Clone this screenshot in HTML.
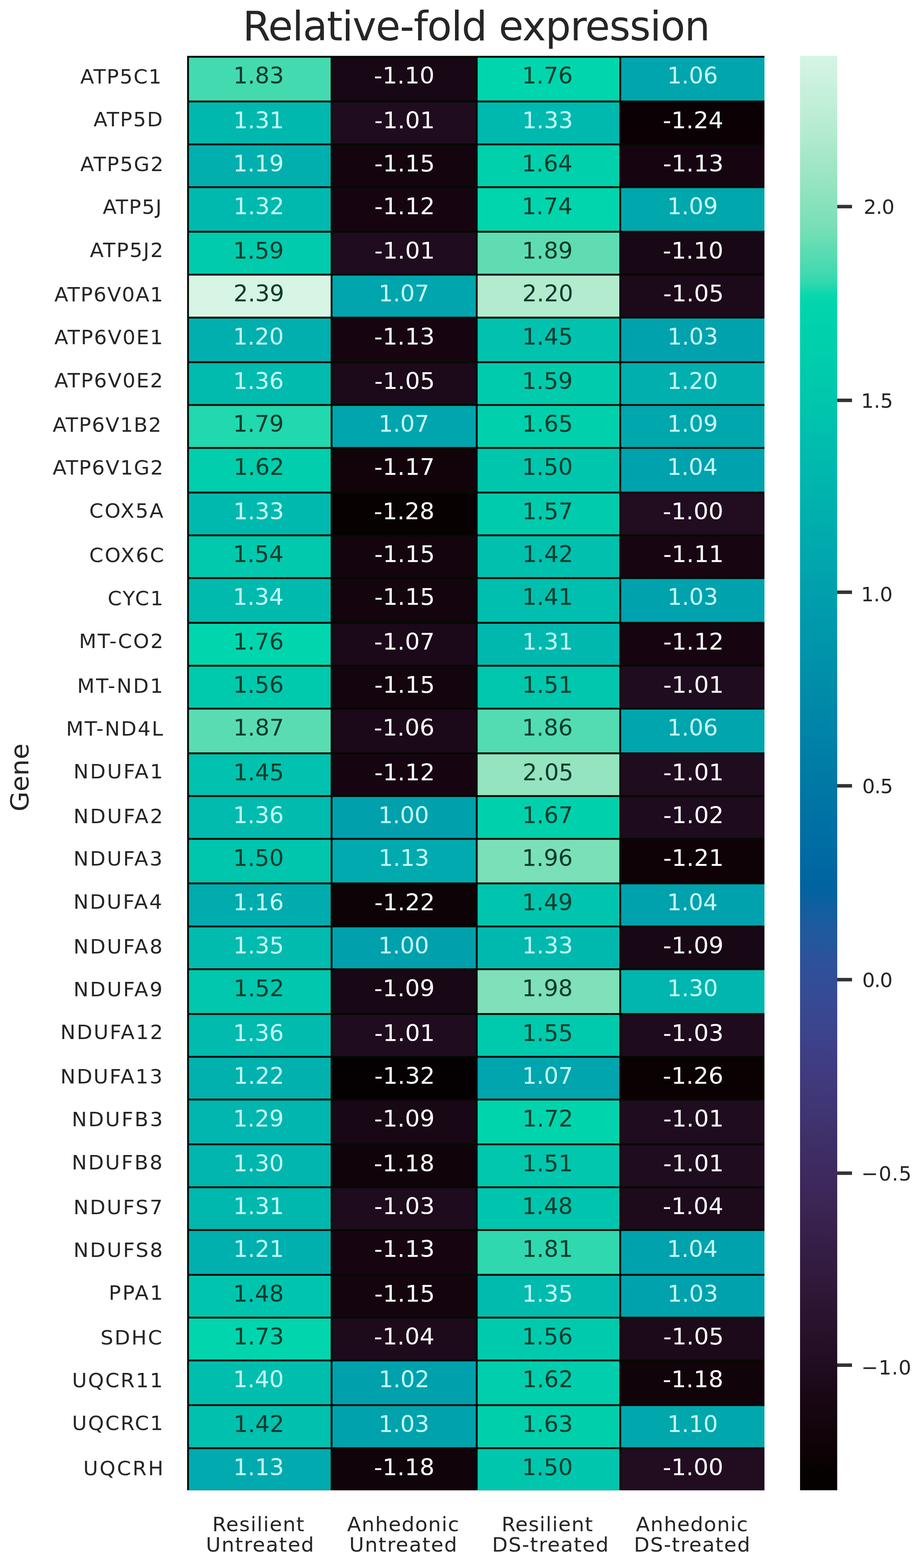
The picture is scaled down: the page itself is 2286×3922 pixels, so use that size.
<!DOCTYPE html>
<html><head><meta charset="utf-8"><title>Relative-fold expression</title>
<style>html,body{margin:0;padding:0;background:#fff;}body{width:2286px;height:3922px;overflow:hidden;}svg{display:block;}</style>
</head><body>
<svg width="2286" height="3922" viewBox="0 0 2286 3922">
<defs><linearGradient id="cb" x1="0" y1="0" x2="0" y2="1"><stop offset="0.0000" stop-color="#d6f5e5"/><stop offset="0.0083" stop-color="#d1f3e2"/><stop offset="0.0167" stop-color="#ccf2de"/><stop offset="0.0250" stop-color="#c6f0db"/><stop offset="0.0333" stop-color="#c1efd7"/><stop offset="0.0417" stop-color="#bcedd4"/><stop offset="0.0500" stop-color="#b6ecd1"/><stop offset="0.0583" stop-color="#b0eacd"/><stop offset="0.0667" stop-color="#a7e8c8"/><stop offset="0.0750" stop-color="#a1e6c5"/><stop offset="0.0833" stop-color="#9ae5c2"/><stop offset="0.0917" stop-color="#93e4bf"/><stop offset="0.1000" stop-color="#8be2bd"/><stop offset="0.1083" stop-color="#83e1ba"/><stop offset="0.1167" stop-color="#7ae0b8"/><stop offset="0.1250" stop-color="#70deb6"/><stop offset="0.1333" stop-color="#60dcb3"/><stop offset="0.1417" stop-color="#53dbb2"/><stop offset="0.1500" stop-color="#44dab0"/><stop offset="0.1583" stop-color="#30d8af"/><stop offset="0.1667" stop-color="#09d7ae"/><stop offset="0.1750" stop-color="#00d5ad"/><stop offset="0.1833" stop-color="#00d4ad"/><stop offset="0.1917" stop-color="#00d1ac"/><stop offset="0.2000" stop-color="#00d0ac"/><stop offset="0.2083" stop-color="#00cead"/><stop offset="0.2167" stop-color="#00ccad"/><stop offset="0.2250" stop-color="#00caad"/><stop offset="0.2333" stop-color="#00c8ad"/><stop offset="0.2417" stop-color="#00c6ad"/><stop offset="0.2500" stop-color="#00c4ae"/><stop offset="0.2583" stop-color="#00c0ae"/><stop offset="0.2667" stop-color="#00beae"/><stop offset="0.2750" stop-color="#00bcae"/><stop offset="0.2833" stop-color="#00baae"/><stop offset="0.2917" stop-color="#00b8ae"/><stop offset="0.3000" stop-color="#00b5ae"/><stop offset="0.3083" stop-color="#00b3ae"/><stop offset="0.3167" stop-color="#00b0ae"/><stop offset="0.3250" stop-color="#00aeae"/><stop offset="0.3333" stop-color="#00abae"/><stop offset="0.3417" stop-color="#00a9ae"/><stop offset="0.3500" stop-color="#00a7ad"/><stop offset="0.3583" stop-color="#00a5ad"/><stop offset="0.3667" stop-color="#00a1ad"/><stop offset="0.3750" stop-color="#009fac"/><stop offset="0.3833" stop-color="#009dac"/><stop offset="0.3917" stop-color="#009aac"/><stop offset="0.4000" stop-color="#0098ab"/><stop offset="0.4083" stop-color="#0096ab"/><stop offset="0.4167" stop-color="#0094ab"/><stop offset="0.4250" stop-color="#0091aa"/><stop offset="0.4333" stop-color="#008ea9"/><stop offset="0.4417" stop-color="#008ca9"/><stop offset="0.4500" stop-color="#008aa9"/><stop offset="0.4583" stop-color="#0087a8"/><stop offset="0.4667" stop-color="#0085a8"/><stop offset="0.4750" stop-color="#0083a7"/><stop offset="0.4833" stop-color="#0080a7"/><stop offset="0.4917" stop-color="#007da6"/><stop offset="0.5000" stop-color="#007ba5"/><stop offset="0.5083" stop-color="#0078a5"/><stop offset="0.5167" stop-color="#0076a5"/><stop offset="0.5250" stop-color="#0074a4"/><stop offset="0.5333" stop-color="#0071a4"/><stop offset="0.5417" stop-color="#006fa3"/><stop offset="0.5500" stop-color="#006da3"/><stop offset="0.5583" stop-color="#0069a2"/><stop offset="0.5667" stop-color="#0067a2"/><stop offset="0.5750" stop-color="#0064a1"/><stop offset="0.5833" stop-color="#0462a0"/><stop offset="0.5917" stop-color="#0f5fa0"/><stop offset="0.6000" stop-color="#175d9f"/><stop offset="0.6083" stop-color="#1e5a9e"/><stop offset="0.6167" stop-color="#23589d"/><stop offset="0.6250" stop-color="#29549b"/><stop offset="0.6333" stop-color="#2d519a"/><stop offset="0.6417" stop-color="#314f98"/><stop offset="0.6500" stop-color="#344c96"/><stop offset="0.6583" stop-color="#374a94"/><stop offset="0.6667" stop-color="#394791"/><stop offset="0.6750" stop-color="#3b458f"/><stop offset="0.6833" stop-color="#3d438c"/><stop offset="0.6917" stop-color="#3e3f87"/><stop offset="0.7000" stop-color="#3f3d83"/><stop offset="0.7083" stop-color="#403b80"/><stop offset="0.7167" stop-color="#40397c"/><stop offset="0.7250" stop-color="#403778"/><stop offset="0.7333" stop-color="#403575"/><stop offset="0.7417" stop-color="#403371"/><stop offset="0.7500" stop-color="#3f316b"/><stop offset="0.7583" stop-color="#3f2f67"/><stop offset="0.7667" stop-color="#3e2d64"/><stop offset="0.7750" stop-color="#3d2b60"/><stop offset="0.7833" stop-color="#3d295c"/><stop offset="0.7917" stop-color="#3c2759"/><stop offset="0.8000" stop-color="#3b2655"/><stop offset="0.8083" stop-color="#392451"/><stop offset="0.8167" stop-color="#38214c"/><stop offset="0.8250" stop-color="#361f48"/><stop offset="0.8333" stop-color="#351e44"/><stop offset="0.8417" stop-color="#331c41"/><stop offset="0.8500" stop-color="#311a3d"/><stop offset="0.8583" stop-color="#301839"/><stop offset="0.8667" stop-color="#2d1634"/><stop offset="0.8750" stop-color="#2b1430"/><stop offset="0.8833" stop-color="#29122d"/><stop offset="0.8917" stop-color="#271129"/><stop offset="0.9000" stop-color="#240f26"/><stop offset="0.9083" stop-color="#220d22"/><stop offset="0.9167" stop-color="#200c1f"/><stop offset="0.9250" stop-color="#1c0919"/><stop offset="0.9333" stop-color="#190716"/><stop offset="0.9417" stop-color="#170612"/><stop offset="0.9500" stop-color="#14050f"/><stop offset="0.9583" stop-color="#12030b"/><stop offset="0.9667" stop-color="#0f0208"/><stop offset="0.9750" stop-color="#0d0205"/><stop offset="0.9833" stop-color="#080102"/><stop offset="0.9917" stop-color="#060001"/><stop offset="1.0000" stop-color="#050001"/></linearGradient></defs>
<rect width="2286" height="3922" fill="#fff"/>
<rect x="468" y="139.7" width="1444" height="3587.8" fill="#020a02"/>
<rect x="472.60" y="144.30" width="354.40" height="107.20" fill="#44dab0"/>
<rect x="831.60" y="144.30" width="358.40" height="107.20" fill="#180714"/>
<rect x="1194.60" y="144.30" width="354.40" height="107.20" fill="#00d6ad"/>
<rect x="1553.60" y="144.30" width="358.40" height="107.20" fill="#00a5ad"/>
<rect x="472.60" y="256.10" width="354.40" height="102.80" fill="#00b8ae"/>
<rect x="831.60" y="256.10" width="358.40" height="102.80" fill="#200c1f"/>
<rect x="1194.60" y="256.10" width="354.40" height="102.80" fill="#00b9ae"/>
<rect x="1553.60" y="256.10" width="358.40" height="102.80" fill="#0b0104"/>
<rect x="472.60" y="363.50" width="354.40" height="102.40" fill="#00afae"/>
<rect x="831.60" y="363.50" width="358.40" height="102.40" fill="#13040d"/>
<rect x="1194.60" y="363.50" width="354.40" height="102.40" fill="#00d0ac"/>
<rect x="1553.60" y="363.50" width="358.40" height="102.40" fill="#160511"/>
<rect x="472.60" y="470.50" width="354.40" height="106.80" fill="#00b9ae"/>
<rect x="831.60" y="470.50" width="358.40" height="106.80" fill="#160511"/>
<rect x="1194.60" y="470.50" width="354.40" height="106.80" fill="#00d5ad"/>
<rect x="1553.60" y="470.50" width="358.40" height="106.80" fill="#00a7ad"/>
<rect x="472.60" y="581.90" width="354.40" height="102.80" fill="#00ccad"/>
<rect x="831.60" y="581.90" width="358.40" height="102.80" fill="#200c1f"/>
<rect x="1194.60" y="581.90" width="354.40" height="102.80" fill="#60dcb3"/>
<rect x="1553.60" y="581.90" width="358.40" height="102.80" fill="#180714"/>
<rect x="472.60" y="689.30" width="354.40" height="102.80" fill="#d6f5e5"/>
<rect x="831.60" y="689.30" width="358.40" height="102.80" fill="#00a5ad"/>
<rect x="1194.60" y="689.30" width="354.40" height="102.80" fill="#b3ebcf"/>
<rect x="1553.60" y="689.30" width="358.40" height="102.80" fill="#1c0919"/>
<rect x="472.60" y="796.70" width="354.40" height="107.00" fill="#00afae"/>
<rect x="831.60" y="796.70" width="358.40" height="107.00" fill="#160511"/>
<rect x="1194.60" y="796.70" width="354.40" height="107.00" fill="#00c2ae"/>
<rect x="1553.60" y="796.70" width="358.40" height="107.00" fill="#00a2ad"/>
<rect x="472.60" y="908.30" width="354.40" height="102.40" fill="#00bbae"/>
<rect x="831.60" y="908.30" width="358.40" height="102.40" fill="#1c0919"/>
<rect x="1194.60" y="908.30" width="354.40" height="102.40" fill="#00ccad"/>
<rect x="1553.60" y="908.30" width="358.40" height="102.40" fill="#00afae"/>
<rect x="472.60" y="1015.30" width="354.40" height="102.80" fill="#22d8ae"/>
<rect x="831.60" y="1015.30" width="358.40" height="102.80" fill="#00a5ad"/>
<rect x="1194.60" y="1015.30" width="354.40" height="102.80" fill="#00d0ac"/>
<rect x="1553.60" y="1015.30" width="358.40" height="102.80" fill="#00a7ad"/>
<rect x="472.60" y="1122.70" width="354.40" height="107.00" fill="#00cead"/>
<rect x="831.60" y="1122.70" width="358.40" height="107.00" fill="#12030b"/>
<rect x="1194.60" y="1122.70" width="354.40" height="107.00" fill="#00c6ad"/>
<rect x="1553.60" y="1122.70" width="358.40" height="107.00" fill="#00a2ad"/>
<rect x="472.60" y="1234.30" width="354.40" height="102.40" fill="#00b9ae"/>
<rect x="831.60" y="1234.30" width="358.40" height="102.40" fill="#070102"/>
<rect x="1194.60" y="1234.30" width="354.40" height="102.40" fill="#00cbad"/>
<rect x="1553.60" y="1234.30" width="358.40" height="102.40" fill="#210c20"/>
<rect x="472.60" y="1341.30" width="354.40" height="102.40" fill="#00c9ad"/>
<rect x="831.60" y="1341.30" width="358.40" height="102.40" fill="#13040d"/>
<rect x="1194.60" y="1341.30" width="354.40" height="102.40" fill="#00c0ae"/>
<rect x="1553.60" y="1341.30" width="358.40" height="102.40" fill="#170612"/>
<rect x="472.60" y="1448.30" width="354.40" height="107.20" fill="#00baae"/>
<rect x="831.60" y="1448.30" width="358.40" height="107.20" fill="#13040d"/>
<rect x="1194.60" y="1448.30" width="354.40" height="107.20" fill="#00bfae"/>
<rect x="1553.60" y="1448.30" width="358.40" height="107.20" fill="#00a2ad"/>
<rect x="472.60" y="1560.10" width="354.40" height="102.80" fill="#00d6ad"/>
<rect x="831.60" y="1560.10" width="358.40" height="102.80" fill="#1b0818"/>
<rect x="1194.60" y="1560.10" width="354.40" height="102.80" fill="#00b8ae"/>
<rect x="1553.60" y="1560.10" width="358.40" height="102.80" fill="#160511"/>
<rect x="472.60" y="1667.50" width="354.40" height="102.70" fill="#00caad"/>
<rect x="831.60" y="1667.50" width="358.40" height="102.70" fill="#13040d"/>
<rect x="1194.60" y="1667.50" width="354.40" height="102.70" fill="#00c7ad"/>
<rect x="1553.60" y="1667.50" width="358.40" height="102.70" fill="#200c1f"/>
<rect x="472.60" y="1774.80" width="354.40" height="107.20" fill="#5adcb2"/>
<rect x="831.60" y="1774.80" width="358.40" height="107.20" fill="#1b0818"/>
<rect x="1194.60" y="1774.80" width="354.40" height="107.20" fill="#53dbb2"/>
<rect x="1553.60" y="1774.80" width="358.40" height="107.20" fill="#00a5ad"/>
<rect x="472.60" y="1886.60" width="354.40" height="102.30" fill="#00c2ae"/>
<rect x="831.60" y="1886.60" width="358.40" height="102.30" fill="#160511"/>
<rect x="1194.60" y="1886.60" width="354.40" height="102.30" fill="#93e4bf"/>
<rect x="1553.60" y="1886.60" width="358.40" height="102.30" fill="#200c1f"/>
<rect x="472.60" y="1993.50" width="354.40" height="102.40" fill="#00bbae"/>
<rect x="831.60" y="1993.50" width="358.40" height="102.40" fill="#00a0ad"/>
<rect x="1194.60" y="1993.50" width="354.40" height="102.40" fill="#00d1ac"/>
<rect x="1553.60" y="1993.50" width="358.40" height="102.40" fill="#1e0b1d"/>
<rect x="472.60" y="2100.50" width="354.40" height="106.80" fill="#00c6ad"/>
<rect x="831.60" y="2100.50" width="358.40" height="106.80" fill="#00aaae"/>
<rect x="1194.60" y="2100.50" width="354.40" height="106.80" fill="#7ae0b8"/>
<rect x="1553.60" y="2100.50" width="358.40" height="106.80" fill="#0e0207"/>
<rect x="472.60" y="2211.90" width="354.40" height="103.10" fill="#00acae"/>
<rect x="831.60" y="2211.90" width="358.40" height="103.10" fill="#0d0205"/>
<rect x="1194.60" y="2211.90" width="354.40" height="103.10" fill="#00c5ae"/>
<rect x="1553.60" y="2211.90" width="358.40" height="103.10" fill="#00a2ad"/>
<rect x="472.60" y="2319.60" width="354.40" height="102.40" fill="#00bbae"/>
<rect x="831.60" y="2319.60" width="358.40" height="102.40" fill="#00a0ad"/>
<rect x="1194.60" y="2319.60" width="354.40" height="102.40" fill="#00b9ae"/>
<rect x="1553.60" y="2319.60" width="358.40" height="102.40" fill="#180714"/>
<rect x="472.60" y="2426.60" width="354.40" height="107.40" fill="#00c7ad"/>
<rect x="831.60" y="2426.60" width="358.40" height="107.40" fill="#180714"/>
<rect x="1194.60" y="2426.60" width="354.40" height="107.40" fill="#7fe0b9"/>
<rect x="1553.60" y="2426.60" width="358.40" height="107.40" fill="#00b6ae"/>
<rect x="472.60" y="2538.60" width="354.40" height="102.40" fill="#00bbae"/>
<rect x="831.60" y="2538.60" width="358.40" height="102.40" fill="#200c1f"/>
<rect x="1194.60" y="2538.60" width="354.40" height="102.40" fill="#00caad"/>
<rect x="1553.60" y="2538.60" width="358.40" height="102.40" fill="#1e0b1d"/>
<rect x="472.60" y="2645.60" width="354.40" height="102.30" fill="#00b1ae"/>
<rect x="831.60" y="2645.60" width="358.40" height="102.30" fill="#050001"/>
<rect x="1194.60" y="2645.60" width="354.40" height="102.30" fill="#00a5ad"/>
<rect x="1553.60" y="2645.60" width="358.40" height="102.30" fill="#0a0103"/>
<rect x="472.60" y="2752.50" width="354.40" height="107.50" fill="#00b6ae"/>
<rect x="831.60" y="2752.50" width="358.40" height="107.50" fill="#180714"/>
<rect x="1194.60" y="2752.50" width="354.40" height="107.50" fill="#00d4ad"/>
<rect x="1553.60" y="2752.50" width="358.40" height="107.50" fill="#200c1f"/>
<rect x="472.60" y="2864.60" width="354.40" height="102.80" fill="#00b6ae"/>
<rect x="831.60" y="2864.60" width="358.40" height="102.80" fill="#11030a"/>
<rect x="1194.60" y="2864.60" width="354.40" height="102.80" fill="#00c7ad"/>
<rect x="1553.60" y="2864.60" width="358.40" height="102.80" fill="#200c1f"/>
<rect x="472.60" y="2972.00" width="354.40" height="102.40" fill="#00b8ae"/>
<rect x="831.60" y="2972.00" width="358.40" height="102.40" fill="#1e0b1d"/>
<rect x="1194.60" y="2972.00" width="354.40" height="102.40" fill="#00c5ae"/>
<rect x="1553.60" y="2972.00" width="358.40" height="102.40" fill="#1d0a1b"/>
<rect x="472.60" y="3079.00" width="354.40" height="107.40" fill="#00b0ae"/>
<rect x="831.60" y="3079.00" width="358.40" height="107.40" fill="#160511"/>
<rect x="1194.60" y="3079.00" width="354.40" height="107.40" fill="#30d8af"/>
<rect x="1553.60" y="3079.00" width="358.40" height="107.40" fill="#00a2ad"/>
<rect x="472.60" y="3191.00" width="354.40" height="102.40" fill="#00c5ae"/>
<rect x="831.60" y="3191.00" width="358.40" height="102.40" fill="#13040d"/>
<rect x="1194.60" y="3191.00" width="354.40" height="102.40" fill="#00bbae"/>
<rect x="1553.60" y="3191.00" width="358.40" height="102.40" fill="#00a2ad"/>
<rect x="472.60" y="3298.00" width="354.40" height="102.60" fill="#00d5ad"/>
<rect x="831.60" y="3298.00" width="358.40" height="102.60" fill="#1d0a1b"/>
<rect x="1194.60" y="3298.00" width="354.40" height="102.60" fill="#00caad"/>
<rect x="1553.60" y="3298.00" width="358.40" height="102.60" fill="#1c0919"/>
<rect x="472.60" y="3405.20" width="354.40" height="107.20" fill="#00beae"/>
<rect x="831.60" y="3405.20" width="358.40" height="107.20" fill="#00a1ad"/>
<rect x="1194.60" y="3405.20" width="354.40" height="107.20" fill="#00cead"/>
<rect x="1553.60" y="3405.20" width="358.40" height="107.20" fill="#11030a"/>
<rect x="472.60" y="3517.00" width="354.40" height="103.00" fill="#00c0ae"/>
<rect x="831.60" y="3517.00" width="358.40" height="103.00" fill="#00a2ad"/>
<rect x="1194.60" y="3517.00" width="354.40" height="103.00" fill="#00cfac"/>
<rect x="1553.60" y="3517.00" width="358.40" height="103.00" fill="#00a7ad"/>
<rect x="472.60" y="3624.60" width="354.40" height="102.90" fill="#00aaae"/>
<rect x="831.60" y="3624.60" width="358.40" height="102.90" fill="#11030a"/>
<rect x="1194.60" y="3624.60" width="354.40" height="102.90" fill="#00c6ad"/>
<rect x="1553.60" y="3624.60" width="358.40" height="102.90" fill="#210c20"/>
<g font-family="'DejaVu Sans','Liberation Sans',sans-serif">
<text transform="translate(583.40 209.40) scale(1.0000 1)" font-size="57" fill="#0b3b2c">1.83</text>
<text transform="translate(935.29 209.40) scale(1.0260 1)" font-size="57" fill="#ffffff">-1.10</text>
<text transform="translate(1305.60 209.40) scale(1.0000 1)" font-size="57" fill="#0b3b2c">1.76</text>
<text transform="translate(1668.70 209.40) scale(1.0000 1)" font-size="57" fill="#c4fbfb">1.06</text>
<text transform="translate(583.40 321.20) scale(1.0000 1)" font-size="57" fill="#c4fbfb">1.31</text>
<text transform="translate(936.32 321.20) scale(1.0260 1)" font-size="57" fill="#ffffff">-1.01</text>
<text transform="translate(1306.10 321.20) scale(1.0000 1)" font-size="57" fill="#c4fbfb">1.33</text>
<text transform="translate(1657.79 321.20) scale(1.0260 1)" font-size="57" fill="#ffffff">-1.24</text>
<text transform="translate(582.90 428.60) scale(1.0000 1)" font-size="57" fill="#c4fbfb">1.19</text>
<text transform="translate(936.32 428.60) scale(1.0260 1)" font-size="57" fill="#ffffff">-1.15</text>
<text transform="translate(1305.10 428.60) scale(1.0000 1)" font-size="57" fill="#0b3b2c">1.64</text>
<text transform="translate(1658.30 428.60) scale(1.0260 1)" font-size="57" fill="#ffffff">-1.13</text>
<text transform="translate(583.90 535.60) scale(1.0000 1)" font-size="57" fill="#c4fbfb">1.32</text>
<text transform="translate(936.32 535.60) scale(1.0260 1)" font-size="57" fill="#ffffff">-1.12</text>
<text transform="translate(1305.10 535.60) scale(1.0000 1)" font-size="57" fill="#0b3b2c">1.74</text>
<text transform="translate(1668.70 535.60) scale(1.0000 1)" font-size="57" fill="#c4fbfb">1.09</text>
<text transform="translate(582.90 647.00) scale(1.0000 1)" font-size="57" fill="#0b3b2c">1.59</text>
<text transform="translate(936.32 647.00) scale(1.0260 1)" font-size="57" fill="#ffffff">-1.01</text>
<text transform="translate(1305.60 647.00) scale(1.0000 1)" font-size="57" fill="#0b3b2c">1.89</text>
<text transform="translate(1657.79 647.00) scale(1.0260 1)" font-size="57" fill="#ffffff">-1.10</text>
<text transform="translate(583.90 754.40) scale(1.0000 1)" font-size="57" fill="#0b3b2c">2.39</text>
<text transform="translate(946.70 754.40) scale(1.0000 1)" font-size="57" fill="#c4fbfb">1.07</text>
<text transform="translate(1306.60 754.40) scale(1.0000 1)" font-size="57" fill="#0b3b2c">2.20</text>
<text transform="translate(1658.82 754.40) scale(1.0260 1)" font-size="57" fill="#ffffff">-1.05</text>
<text transform="translate(582.90 861.80) scale(1.0000 1)" font-size="57" fill="#c4fbfb">1.20</text>
<text transform="translate(935.80 861.80) scale(1.0260 1)" font-size="57" fill="#ffffff">-1.13</text>
<text transform="translate(1306.10 861.80) scale(1.0000 1)" font-size="57" fill="#0b3b2c">1.45</text>
<text transform="translate(1669.20 861.80) scale(1.0000 1)" font-size="57" fill="#c4fbfb">1.03</text>
<text transform="translate(582.90 973.40) scale(1.0000 1)" font-size="57" fill="#c4fbfb">1.36</text>
<text transform="translate(936.32 973.40) scale(1.0260 1)" font-size="57" fill="#ffffff">-1.05</text>
<text transform="translate(1305.60 973.40) scale(1.0000 1)" font-size="57" fill="#0b3b2c">1.59</text>
<text transform="translate(1668.70 973.40) scale(1.0000 1)" font-size="57" fill="#c4fbfb">1.20</text>
<text transform="translate(582.90 1080.40) scale(1.0000 1)" font-size="57" fill="#0b3b2c">1.79</text>
<text transform="translate(946.70 1080.40) scale(1.0000 1)" font-size="57" fill="#c4fbfb">1.07</text>
<text transform="translate(1306.10 1080.40) scale(1.0000 1)" font-size="57" fill="#0b3b2c">1.65</text>
<text transform="translate(1668.70 1080.40) scale(1.0000 1)" font-size="57" fill="#c4fbfb">1.09</text>
<text transform="translate(583.90 1187.80) scale(1.0000 1)" font-size="57" fill="#0b3b2c">1.62</text>
<text transform="translate(935.80 1187.80) scale(1.0260 1)" font-size="57" fill="#ffffff">-1.17</text>
<text transform="translate(1305.60 1187.80) scale(1.0000 1)" font-size="57" fill="#0b3b2c">1.50</text>
<text transform="translate(1668.20 1187.80) scale(1.0000 1)" font-size="57" fill="#c4fbfb">1.04</text>
<text transform="translate(583.40 1299.40) scale(1.0000 1)" font-size="57" fill="#c4fbfb">1.33</text>
<text transform="translate(935.29 1299.40) scale(1.0260 1)" font-size="57" fill="#ffffff">-1.28</text>
<text transform="translate(1306.10 1299.40) scale(1.0000 1)" font-size="57" fill="#0b3b2c">1.57</text>
<text transform="translate(1657.79 1299.40) scale(1.0260 1)" font-size="57" fill="#ffffff">-1.00</text>
<text transform="translate(582.40 1406.40) scale(1.0000 1)" font-size="57" fill="#0b3b2c">1.54</text>
<text transform="translate(936.32 1406.40) scale(1.0260 1)" font-size="57" fill="#ffffff">-1.15</text>
<text transform="translate(1306.60 1406.40) scale(1.0000 1)" font-size="57" fill="#0b3b2c">1.42</text>
<text transform="translate(1658.82 1406.40) scale(1.0260 1)" font-size="57" fill="#ffffff">-1.11</text>
<text transform="translate(582.40 1513.40) scale(1.0000 1)" font-size="57" fill="#c4fbfb">1.34</text>
<text transform="translate(936.32 1513.40) scale(1.0260 1)" font-size="57" fill="#ffffff">-1.15</text>
<text transform="translate(1306.10 1513.40) scale(1.0000 1)" font-size="57" fill="#0b3b2c">1.41</text>
<text transform="translate(1669.20 1513.40) scale(1.0000 1)" font-size="57" fill="#c4fbfb">1.03</text>
<text transform="translate(582.90 1625.20) scale(1.0000 1)" font-size="57" fill="#0b3b2c">1.76</text>
<text transform="translate(935.80 1625.20) scale(1.0260 1)" font-size="57" fill="#ffffff">-1.07</text>
<text transform="translate(1306.10 1625.20) scale(1.0000 1)" font-size="57" fill="#c4fbfb">1.31</text>
<text transform="translate(1658.82 1625.20) scale(1.0260 1)" font-size="57" fill="#ffffff">-1.12</text>
<text transform="translate(582.90 1732.60) scale(1.0000 1)" font-size="57" fill="#0b3b2c">1.56</text>
<text transform="translate(936.32 1732.60) scale(1.0260 1)" font-size="57" fill="#ffffff">-1.15</text>
<text transform="translate(1306.10 1732.60) scale(1.0000 1)" font-size="57" fill="#0b3b2c">1.51</text>
<text transform="translate(1658.82 1732.60) scale(1.0260 1)" font-size="57" fill="#ffffff">-1.01</text>
<text transform="translate(583.40 1839.90) scale(1.0000 1)" font-size="57" fill="#0b3b2c">1.87</text>
<text transform="translate(935.29 1839.90) scale(1.0260 1)" font-size="57" fill="#ffffff">-1.06</text>
<text transform="translate(1305.60 1839.90) scale(1.0000 1)" font-size="57" fill="#0b3b2c">1.86</text>
<text transform="translate(1668.70 1839.90) scale(1.0000 1)" font-size="57" fill="#c4fbfb">1.06</text>
<text transform="translate(583.40 1951.70) scale(1.0000 1)" font-size="57" fill="#0b3b2c">1.45</text>
<text transform="translate(936.32 1951.70) scale(1.0260 1)" font-size="57" fill="#ffffff">-1.12</text>
<text transform="translate(1307.10 1951.70) scale(1.0000 1)" font-size="57" fill="#0b3b2c">2.05</text>
<text transform="translate(1658.82 1951.70) scale(1.0260 1)" font-size="57" fill="#ffffff">-1.01</text>
<text transform="translate(582.90 2058.60) scale(1.0000 1)" font-size="57" fill="#c4fbfb">1.36</text>
<text transform="translate(946.20 2058.60) scale(1.0000 1)" font-size="57" fill="#c4fbfb">1.00</text>
<text transform="translate(1306.10 2058.60) scale(1.0000 1)" font-size="57" fill="#0b3b2c">1.67</text>
<text transform="translate(1658.82 2058.60) scale(1.0260 1)" font-size="57" fill="#ffffff">-1.02</text>
<text transform="translate(582.90 2165.60) scale(1.0000 1)" font-size="57" fill="#0b3b2c">1.50</text>
<text transform="translate(946.70 2165.60) scale(1.0000 1)" font-size="57" fill="#c4fbfb">1.13</text>
<text transform="translate(1305.60 2165.60) scale(1.0000 1)" font-size="57" fill="#0b3b2c">1.96</text>
<text transform="translate(1658.82 2165.60) scale(1.0260 1)" font-size="57" fill="#ffffff">-1.21</text>
<text transform="translate(582.90 2277.00) scale(1.0000 1)" font-size="57" fill="#c4fbfb">1.16</text>
<text transform="translate(936.32 2277.00) scale(1.0260 1)" font-size="57" fill="#ffffff">-1.22</text>
<text transform="translate(1305.60 2277.00) scale(1.0000 1)" font-size="57" fill="#0b3b2c">1.49</text>
<text transform="translate(1668.20 2277.00) scale(1.0000 1)" font-size="57" fill="#c4fbfb">1.04</text>
<text transform="translate(583.40 2384.70) scale(1.0000 1)" font-size="57" fill="#c4fbfb">1.35</text>
<text transform="translate(946.20 2384.70) scale(1.0000 1)" font-size="57" fill="#c4fbfb">1.00</text>
<text transform="translate(1306.10 2384.70) scale(1.0000 1)" font-size="57" fill="#c4fbfb">1.33</text>
<text transform="translate(1658.30 2384.70) scale(1.0260 1)" font-size="57" fill="#ffffff">-1.09</text>
<text transform="translate(583.90 2491.70) scale(1.0000 1)" font-size="57" fill="#0b3b2c">1.52</text>
<text transform="translate(935.80 2491.70) scale(1.0260 1)" font-size="57" fill="#ffffff">-1.09</text>
<text transform="translate(1305.60 2491.70) scale(1.0000 1)" font-size="57" fill="#0b3b2c">1.98</text>
<text transform="translate(1668.70 2491.70) scale(1.0000 1)" font-size="57" fill="#c4fbfb">1.30</text>
<text transform="translate(582.90 2603.70) scale(1.0000 1)" font-size="57" fill="#c4fbfb">1.36</text>
<text transform="translate(936.32 2603.70) scale(1.0260 1)" font-size="57" fill="#ffffff">-1.01</text>
<text transform="translate(1306.10 2603.70) scale(1.0000 1)" font-size="57" fill="#0b3b2c">1.55</text>
<text transform="translate(1658.30 2603.70) scale(1.0260 1)" font-size="57" fill="#ffffff">-1.03</text>
<text transform="translate(583.90 2710.70) scale(1.0000 1)" font-size="57" fill="#c4fbfb">1.22</text>
<text transform="translate(936.32 2710.70) scale(1.0260 1)" font-size="57" fill="#ffffff">-1.32</text>
<text transform="translate(1306.10 2710.70) scale(1.0000 1)" font-size="57" fill="#c4fbfb">1.07</text>
<text transform="translate(1657.79 2710.70) scale(1.0260 1)" font-size="57" fill="#ffffff">-1.26</text>
<text transform="translate(582.90 2817.60) scale(1.0000 1)" font-size="57" fill="#c4fbfb">1.29</text>
<text transform="translate(935.80 2817.60) scale(1.0260 1)" font-size="57" fill="#ffffff">-1.09</text>
<text transform="translate(1306.60 2817.60) scale(1.0000 1)" font-size="57" fill="#0b3b2c">1.72</text>
<text transform="translate(1658.82 2817.60) scale(1.0260 1)" font-size="57" fill="#ffffff">-1.01</text>
<text transform="translate(582.90 2929.70) scale(1.0000 1)" font-size="57" fill="#c4fbfb">1.30</text>
<text transform="translate(935.29 2929.70) scale(1.0260 1)" font-size="57" fill="#ffffff">-1.18</text>
<text transform="translate(1306.10 2929.70) scale(1.0000 1)" font-size="57" fill="#0b3b2c">1.51</text>
<text transform="translate(1658.82 2929.70) scale(1.0260 1)" font-size="57" fill="#ffffff">-1.01</text>
<text transform="translate(583.40 3037.10) scale(1.0000 1)" font-size="57" fill="#c4fbfb">1.31</text>
<text transform="translate(935.80 3037.10) scale(1.0260 1)" font-size="57" fill="#ffffff">-1.03</text>
<text transform="translate(1305.60 3037.10) scale(1.0000 1)" font-size="57" fill="#0b3b2c">1.48</text>
<text transform="translate(1657.79 3037.10) scale(1.0260 1)" font-size="57" fill="#ffffff">-1.04</text>
<text transform="translate(583.40 3144.10) scale(1.0000 1)" font-size="57" fill="#c4fbfb">1.21</text>
<text transform="translate(935.80 3144.10) scale(1.0260 1)" font-size="57" fill="#ffffff">-1.13</text>
<text transform="translate(1306.10 3144.10) scale(1.0000 1)" font-size="57" fill="#0b3b2c">1.81</text>
<text transform="translate(1668.20 3144.10) scale(1.0000 1)" font-size="57" fill="#c4fbfb">1.04</text>
<text transform="translate(582.90 3256.10) scale(1.0000 1)" font-size="57" fill="#0b3b2c">1.48</text>
<text transform="translate(936.32 3256.10) scale(1.0260 1)" font-size="57" fill="#ffffff">-1.15</text>
<text transform="translate(1306.10 3256.10) scale(1.0000 1)" font-size="57" fill="#c4fbfb">1.35</text>
<text transform="translate(1669.20 3256.10) scale(1.0000 1)" font-size="57" fill="#c4fbfb">1.03</text>
<text transform="translate(583.40 3363.10) scale(1.0000 1)" font-size="57" fill="#0b3b2c">1.73</text>
<text transform="translate(935.29 3363.10) scale(1.0260 1)" font-size="57" fill="#ffffff">-1.04</text>
<text transform="translate(1305.60 3363.10) scale(1.0000 1)" font-size="57" fill="#0b3b2c">1.56</text>
<text transform="translate(1658.82 3363.10) scale(1.0260 1)" font-size="57" fill="#ffffff">-1.05</text>
<text transform="translate(582.90 3470.30) scale(1.0000 1)" font-size="57" fill="#c4fbfb">1.40</text>
<text transform="translate(947.20 3470.30) scale(1.0000 1)" font-size="57" fill="#c4fbfb">1.02</text>
<text transform="translate(1306.60 3470.30) scale(1.0000 1)" font-size="57" fill="#0b3b2c">1.62</text>
<text transform="translate(1657.79 3470.30) scale(1.0260 1)" font-size="57" fill="#ffffff">-1.18</text>
<text transform="translate(583.90 3582.10) scale(1.0000 1)" font-size="57" fill="#0b3b2c">1.42</text>
<text transform="translate(946.70 3582.10) scale(1.0000 1)" font-size="57" fill="#c4fbfb">1.03</text>
<text transform="translate(1306.10 3582.10) scale(1.0000 1)" font-size="57" fill="#0b3b2c">1.63</text>
<text transform="translate(1668.70 3582.10) scale(1.0000 1)" font-size="57" fill="#c4fbfb">1.10</text>
<text transform="translate(583.40 3689.70) scale(1.0000 1)" font-size="57" fill="#c4fbfb">1.13</text>
<text transform="translate(935.29 3689.70) scale(1.0260 1)" font-size="57" fill="#ffffff">-1.18</text>
<text transform="translate(1305.60 3689.70) scale(1.0000 1)" font-size="57" fill="#0b3b2c">1.50</text>
<text transform="translate(1657.79 3689.70) scale(1.0260 1)" font-size="57" fill="#ffffff">-1.00</text>
<g fill="#262626">
<text x="200.80" y="209.40" letter-spacing="2.300" font-size="50.5">ATP5C1</text>
<text x="234.00" y="316.30" letter-spacing="2.425" font-size="50.5">ATP5D</text>
<text x="200.80" y="428.00" letter-spacing="2.480" font-size="50.5">ATP5G2</text>
<text x="256.90" y="535.40" letter-spacing="2.100" font-size="50.5">ATP5J</text>
<text x="224.80" y="642.50" letter-spacing="2.440" font-size="50.5">ATP5J2</text>
<text x="136.00" y="754.40" letter-spacing="2.029" font-size="50.5">ATP6V0A1</text>
<text x="136.00" y="861.30" letter-spacing="2.371" font-size="50.5">ATP6V0E1</text>
<text x="136.00" y="968.60" letter-spacing="2.371" font-size="50.5">ATP6V0E2</text>
<text x="131.70" y="1079.90" letter-spacing="2.029" font-size="50.5">ATP6V1B2</text>
<text x="131.70" y="1187.00" letter-spacing="2.071" font-size="50.5">ATP6V1G2</text>
<text x="223.30" y="1294.80" letter-spacing="3.075" font-size="50.5">COX5A</text>
<text x="223.30" y="1406.30" letter-spacing="3.325" font-size="50.5">COX6C</text>
<text x="269.30" y="1513.70" letter-spacing="2.967" font-size="50.5">CYC1</text>
<text x="197.50" y="1620.60" letter-spacing="3.140" font-size="50.5">MT-CO2</text>
<text x="193.10" y="1732.50" letter-spacing="3.540" font-size="50.5">MT-ND1</text>
<text x="165.20" y="1839.80" letter-spacing="2.900" font-size="50.5">MT-ND4L</text>
<text x="183.70" y="1946.70" letter-spacing="3.780" font-size="50.5">NDUFA1</text>
<text x="183.70" y="2058.50" letter-spacing="3.780" font-size="50.5">NDUFA2</text>
<text x="183.70" y="2165.40" letter-spacing="3.580" font-size="50.5">NDUFA3</text>
<text x="183.70" y="2272.50" letter-spacing="3.380" font-size="50.5">NDUFA4</text>
<text x="183.70" y="2384.60" letter-spacing="3.580" font-size="50.5">NDUFA8</text>
<text x="183.70" y="2491.50" letter-spacing="3.580" font-size="50.5">NDUFA9</text>
<text x="151.00" y="2598.70" letter-spacing="3.267" font-size="50.5">NDUFA12</text>
<text x="151.00" y="2710.40" letter-spacing="3.100" font-size="50.5">NDUFA13</text>
<text x="179.40" y="2817.30" letter-spacing="3.640" font-size="50.5">NDUFB3</text>
<text x="179.40" y="2924.80" letter-spacing="3.520" font-size="50.5">NDUFB8</text>
<text x="183.70" y="3037.00" letter-spacing="3.380" font-size="50.5">NDUFS7</text>
<text x="183.70" y="3143.90" letter-spacing="3.460" font-size="50.5">NDUFS8</text>
<text x="272.10" y="3251.00" letter-spacing="3.633" font-size="50.5">PPA1</text>
<text x="251.20" y="3362.80" letter-spacing="3.267" font-size="50.5">SDHC</text>
<text x="180.30" y="3469.90" letter-spacing="3.100" font-size="50.5">UQCR11</text>
<text x="180.30" y="3577.10" letter-spacing="3.100" font-size="50.5">UQCRC1</text>
<text x="208.30" y="3689.80" letter-spacing="3.775" font-size="50.5">UQCRH</text>
<rect x="2001" y="139.5" width="93" height="3588.0" fill="url(#cb)"/>
<rect x="2094" y="512.4" width="37" height="8.7" fill="#333333"/>
<rect x="2094" y="997.0" width="37" height="8.7" fill="#333333"/>
<rect x="2094" y="1477.0" width="37" height="8.7" fill="#333333"/>
<rect x="2094" y="1961.2" width="37" height="8.7" fill="#333333"/>
<rect x="2094" y="2446.0" width="37" height="8.7" fill="#333333"/>
<rect x="2094" y="2930.1" width="37" height="8.7" fill="#333333"/>
<rect x="2094" y="3410.3" width="37" height="8.7" fill="#333333"/>
<text x="2159.90" y="535.10" letter-spacing="-1.000" font-size="50">2.0</text>
<text x="2153.40" y="1019.60" letter-spacing="0.300" font-size="50">1.5</text>
<text x="2153.40" y="1504.10" letter-spacing="-0.200" font-size="50">1.0</text>
<text x="2156.40" y="1983.60" letter-spacing="-1.200" font-size="50">0.5</text>
<text x="2156.40" y="2468.60" letter-spacing="-1.700" font-size="50">0.0</text>
<text x="2154.40" y="2952.70" letter-spacing="1.367" font-size="50">−0.5</text>
<text x="2154.40" y="3437.60" letter-spacing="1.100" font-size="50">−1.0</text>
<text x="530.90" y="3829.60" letter-spacing="1.850" font-size="50.5">Resilient</text>
<text x="514.90" y="3880.60" letter-spacing="2.112" font-size="50.5">Untreated</text>
<text x="868.30" y="3829.60" letter-spacing="1.662" font-size="50.5">Anhedonic</text>
<text x="873.40" y="3880.60" letter-spacing="2.050" font-size="50.5">Untreated</text>
<text x="1254.50" y="3829.60" letter-spacing="1.625" font-size="50.5">Resilient</text>
<text x="1230.70" y="3880.60" letter-spacing="1.967" font-size="50.5">DS-treated</text>
<text x="1590.50" y="3829.60" letter-spacing="1.675" font-size="50.5">Anhedonic</text>
<text x="1585.60" y="3880.60" letter-spacing="1.867" font-size="50.5">DS-treated</text>
<text x="607.00" y="101.30" letter-spacing="-1.630" font-size="100.7" stroke-width="0">Relative-fold expression</text>
<text transform="translate(71.00 2029.86) rotate(-90) scale(1.0410 1)" font-size="62">Gene</text>
</g></g></svg>
</body></html>
